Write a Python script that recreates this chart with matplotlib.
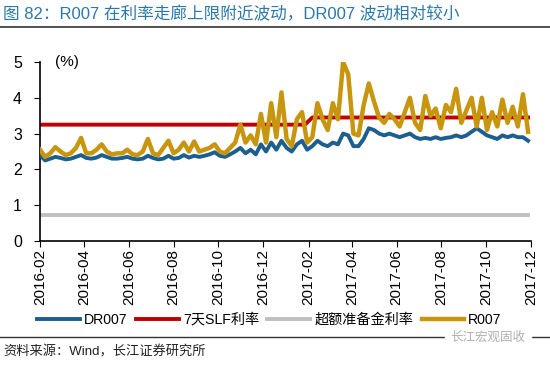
import matplotlib
matplotlib.use("Agg")
import matplotlib.pyplot as plt
import matplotlib.dates as mdates
import pandas as pd

plt.rcParams["font.family"] = ["Liberation Sans", "Noto Sans CJK SC"]

# weekly readings, starting 2016-02-01
r007 = [
    2.55, 2.35, 2.45, 2.62, 2.50, 2.40, 2.45, 2.60, 2.88, 2.45,
    2.45, 2.55, 2.70, 2.50, 2.42, 2.45, 2.45, 2.55, 2.42, 2.40,
    2.50, 2.85, 2.45, 2.40, 2.60, 2.80, 2.45, 2.55, 2.75, 2.50,
    2.78, 2.50, 2.55, 2.60, 2.70, 2.50, 2.45, 2.60, 2.75, 3.25,
    2.75, 2.95, 2.70, 3.55, 2.75, 3.85, 2.90, 4.15, 2.85, 2.65,
    3.40, 3.60, 2.75, 2.90, 3.85, 3.40, 3.10, 3.85, 3.40, 5.00,
    4.65, 3.00, 2.95, 3.80, 4.40, 3.90, 3.45, 3.30, 3.55, 3.40,
    3.20, 3.60, 4.00, 3.30, 3.10, 4.05, 3.50, 3.70, 3.15, 3.80,
    3.60, 4.25, 3.30, 3.65, 4.00, 3.20, 4.00, 3.10, 3.60, 3.20,
    3.95, 3.30, 3.75, 3.20, 4.10, 3.05,
]
dr007 = [
    2.40, 2.25, 2.30, 2.35, 2.32, 2.28, 2.30, 2.35, 2.40, 2.32,
    2.30, 2.33, 2.40, 2.35, 2.30, 2.30, 2.32, 2.35, 2.30, 2.28,
    2.30, 2.38, 2.32, 2.28, 2.30, 2.38, 2.30, 2.32, 2.40, 2.33,
    2.38, 2.35, 2.38, 2.42, 2.48, 2.38, 2.35, 2.42, 2.50, 2.60,
    2.45, 2.55, 2.42, 2.70, 2.50, 2.75, 2.55, 2.80, 2.60, 2.50,
    2.70, 2.80, 2.55, 2.65, 2.80, 2.70, 2.65, 2.75, 2.70, 3.00,
    2.95, 2.65, 2.65, 2.85, 3.15, 3.10, 3.00, 2.95, 3.00, 2.95,
    2.90, 2.95, 3.00, 2.90, 2.85, 2.88, 2.85, 2.90, 2.85, 2.88,
    2.90, 2.95, 2.90, 2.95, 3.05, 3.15, 3.05, 2.95, 2.90, 2.85,
    2.95, 2.90, 2.95, 2.90, 2.90, 2.80,
]
slf_dates = ["2016-02-01", "2017-01-27", "2017-02-06", "2017-11-27"]
slf_rate = [3.25, 3.25, 3.45, 3.45]
reserve_rate = 0.72

labels = ["DR007", "7天SLF利率", "超额准备金利率", "R007"]
colors = ["#1c5f8e", "#c00000", "#bfbfbf", "#c8960e"]

dates = pd.date_range("2016-02-01", periods=len(r007), freq="7D")

fig = plt.figure(figsize=(5.5, 3.66), dpi=100)
ax = fig.add_axes([0.0727, 0.3415, 0.8928, 0.4891])

ax.plot(dates, dr007, color=colors[0], lw=2.8, label=labels[0], zorder=3)
ax.plot(pd.to_datetime(slf_dates), slf_rate, color=colors[1], lw=2.8,
        label=labels[1], zorder=2)
ax.plot([dates[0], dates[-1]], [reserve_rate] * 2, color=colors[2], lw=2.8,
        label=labels[2], zorder=2)
ax.plot(dates, r007, color=colors[3], lw=3.2, label=labels[3], zorder=4)

ax.set_xlim(pd.Timestamp("2016-02-01"), pd.Timestamp("2017-12-01"))
ax.set_ylim(0, 5)
ax.set_yticks(range(6))
ax.xaxis.set_major_locator(mdates.MonthLocator(bymonth=[2, 4, 6, 8, 10, 12]))
ax.xaxis.set_major_formatter(mdates.DateFormatter("%Y-%m"))
ax.tick_params(axis="x", rotation=90, labelsize=11, length=4, pad=2)
ax.tick_params(axis="y", labelsize=11.5, length=4, pad=9)
for side in ("top", "right"):
    ax.spines[side].set_visible(False)
ax.spines["left"].set_linewidth(1.2)
ax.spines["bottom"].set_linewidth(1.2)
ax.text(0.03, 1.0, "(%)", transform=ax.transAxes, fontsize=11, va="center")

fig.legend(loc="center", bbox_to_anchor=(0.49, 0.126), ncol=4, frameon=False,
           fontsize=10.2, handlelength=3.0, handletextpad=0.3,
           columnspacing=0.6)

fig.text(0.006, 0.962, "图 82：R007 在利率走廊上限附近波动，DR007 波动相对较小",
         fontsize=12, color="#2a78aa", va="center")
fig.add_artist(plt.Line2D([0, 1], [0.926, 0.926], color="#333333", lw=1.2))
fig.add_artist(plt.Line2D([0, 1], [0.079, 0.079], color="#333333", lw=1.0))
fig.text(0.006, 0.038, "资料来源：Wind，长江证券研究所", fontsize=9.5,
         color="#222222", va="center")
fig.text(0.955, 0.079, "长江宏观固收", fontsize=9, color="#b0b0b0",
         ha="right", va="center", backgroundcolor="white")

fig.savefig("out.png", dpi=100)
